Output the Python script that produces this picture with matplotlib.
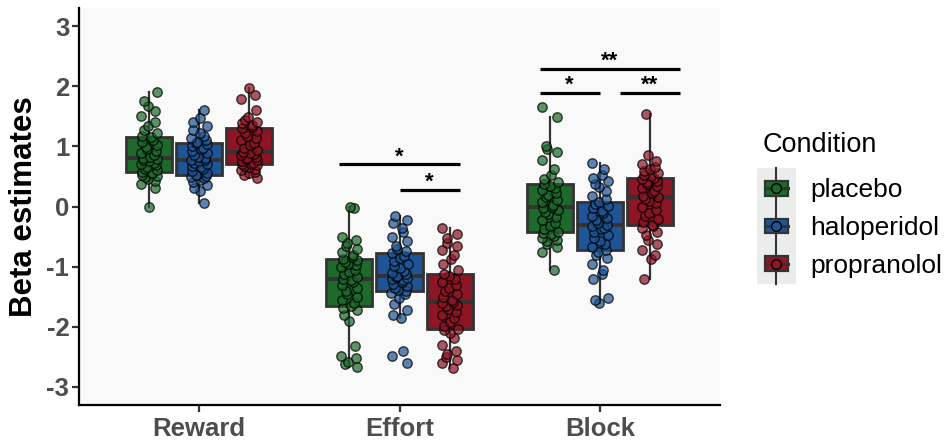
import numpy as np
import matplotlib
matplotlib.use("Agg")
import matplotlib.pyplot as plt
from matplotlib.patches import Rectangle, Patch
from matplotlib.lines import Line2D
from matplotlib.legend_handler import HandlerBase

plt.rcParams['font.family'] = ['Liberation Sans', 'DejaVu Sans']
plt.rcParams['axes.unicode_minus'] = False

categories = ["Reward", "Effort", "Block"]
conditions = ["placebo", "haloperidol", "propranolol"]
colors = {"placebo": "#1d6a2b", "haloperidol": "#1f5597", "propranolol": "#8e1624"}

# Per-participant beta estimates, by regressor and condition
reward_placebo = [0.00, 0.30, 0.38, 0.42, 0.46, 0.49, 0.51, 0.53, 0.55, 0.56,
                  0.57, 0.60, 0.63, 0.66, 0.69, 0.71, 0.73, 0.75, 0.77, 0.79,
                  0.80, 0.83, 0.86, 0.89, 0.92, 0.95, 0.99, 1.03, 1.07, 1.11,
                  1.15, 1.18, 1.22, 1.27, 1.33, 1.40, 1.50, 1.58, 1.67, 1.76, 1.90]
reward_haloperidol = [0.05, 0.25, 0.30, 0.36, 0.40, 0.44, 0.47, 0.49, 0.51, 0.52,
                      0.53, 0.56, 0.59, 0.62, 0.65, 0.68, 0.71, 0.73, 0.75, 0.77,
                      0.78, 0.80, 0.83, 0.86, 0.89, 0.92, 0.95, 0.98, 1.01, 1.04,
                      1.06, 1.08, 1.11, 1.14, 1.18, 1.22, 1.27, 1.33, 1.40, 1.47, 1.60]
reward_propranolol = [0.48, 0.52, 0.55, 0.58, 0.61, 0.63, 0.65, 0.67, 0.69, 0.70,
                      0.71, 0.73, 0.75, 0.77, 0.79, 0.81, 0.83, 0.85, 0.87, 0.89,
                      0.91, 0.94, 0.98, 1.02, 1.06, 1.10, 1.14, 1.18, 1.22, 1.26,
                      1.30, 1.32, 1.35, 1.38, 1.41, 1.44, 1.48, 1.60, 1.78, 1.86, 1.97]
effort_placebo = [-2.67, -2.62, -2.58, -2.52, -2.48, -2.32, -1.90, -1.80, -1.72, -1.68,
                  -1.66, -1.60, -1.55, -1.50, -1.45, -1.40, -1.35, -1.30, -1.26, -1.22,
                  -1.20, -1.17, -1.13, -1.09, -1.05, -1.01, -0.98, -0.95, -0.92, -0.89,
                  -0.87, -0.84, -0.80, -0.75, -0.70, -0.65, -0.60, -0.55, -0.50, -0.02, 0.00]
effort_haloperidol = [-2.60, -2.48, -2.40, -1.86, -1.80, -1.72, -1.62, -1.52, -1.46, -1.43,
                      -1.41, -1.38, -1.35, -1.32, -1.29, -1.26, -1.23, -1.21, -1.19, -1.17,
                      -1.16, -1.13, -1.10, -1.07, -1.03, -0.99, -0.95, -0.90, -0.86, -0.82,
                      -0.78, -0.74, -0.70, -0.65, -0.58, -0.50, -0.42, -0.35, -0.28, -0.22, -0.15]
effort_propranolol = [-2.69, -2.60, -2.55, -2.50, -2.46, -2.40, -2.30, -2.18, -2.10, -2.06,
                      -2.03, -1.98, -1.92, -1.86, -1.80, -1.75, -1.70, -1.66, -1.63, -1.61,
                      -1.59, -1.55, -1.50, -1.45, -1.40, -1.35, -1.30, -1.25, -1.20, -1.16,
                      -1.13, -1.05, -0.95, -0.88, -0.80, -0.72, -0.66, -0.60, -0.52, -0.45, -0.35]
block_placebo = [-1.06, -0.75, -0.68, -0.62, -0.58, -0.55, -0.52, -0.49, -0.46, -0.44,
                 -0.43, -0.38, -0.33, -0.28, -0.23, -0.18, -0.13, -0.09, -0.05, -0.03,
                 -0.01, 0.03, 0.07, 0.11, 0.15, 0.19, 0.23, 0.27, 0.31, 0.34,
                 0.37, 0.40, 0.45, 0.52, 0.62, 0.78, 0.90, 0.95, 1.00, 1.48, 1.65]
block_haloperidol = [-1.60, -1.56, -1.52, -1.20, -1.12, -1.05, -0.95, -0.86, -0.80, -0.76,
                     -0.73, -0.68, -0.63, -0.58, -0.53, -0.48, -0.43, -0.38, -0.35, -0.32,
                     -0.30, -0.27, -0.23, -0.19, -0.15, -0.11, -0.07, -0.03, 0.01, 0.04,
                     0.07, 0.12, 0.18, 0.26, 0.32, 0.38, 0.43, 0.47, 0.52, 0.62, 0.73]
block_propranolol = [-1.20, -0.88, -0.80, -0.72, -0.62, -0.55, -0.48, -0.42, -0.36, -0.32,
                     -0.30, -0.25, -0.20, -0.15, -0.10, -0.05, 0.00, 0.05, 0.09, 0.12,
                     0.15, 0.18, 0.22, 0.26, 0.30, 0.34, 0.37, 0.40, 0.43, 0.46,
                     0.48, 0.50, 0.53, 0.56, 0.59, 0.62, 0.66, 0.70, 0.76, 0.85, 1.53]

data = {
    ("Reward", "placebo"): reward_placebo,
    ("Reward", "haloperidol"): reward_haloperidol,
    ("Reward", "propranolol"): reward_propranolol,
    ("Effort", "placebo"): effort_placebo,
    ("Effort", "haloperidol"): effort_haloperidol,
    ("Effort", "propranolol"): effort_propranolol,
    ("Block", "placebo"): block_placebo,
    ("Block", "haloperidol"): block_haloperidol,
    ("Block", "propranolol"): block_propranolol,
}

# Pairwise comparisons: (x start, x end, bar height, significance label)
sig_x1 = [1.7, 2.0, 2.7, 3.1, 2.7]
sig_x2 = [2.3, 2.3, 3.0, 3.4, 3.4]
sig_y = [0.70, 0.28, 1.89, 1.89, 2.29]
sig_labels = ["*", "*", "*", "**", "**"]

W, H, DPI = 949, 441, 100
fig = plt.figure(figsize=(W / DPI, H / DPI), dpi=DPI)
ax = fig.add_axes([79 / W, 1 - 405 / H, (720 - 79) / W, (405 - 8) / H])
ax.set_facecolor("#f9f9f9")

dodge = [-0.25, 0.0, 0.25]
box_w = 0.23
edge = "#333333"

for ci, cat in enumerate(categories):
    for k, cond in enumerate(conditions):
        vals = np.asarray(data[(cat, cond)])
        pos = ci + 1 + dodge[k]
        ax.boxplot([vals], positions=[pos], widths=box_w, patch_artist=True,
                   showfliers=False, showcaps=False, whis=1.5,
                   boxprops=dict(facecolor=colors[cond], edgecolor=edge, linewidth=2.0),
                   medianprops=dict(color=edge, linewidth=2.8),
                   whiskerprops=dict(color=edge, linewidth=1.6),
                   manage_ticks=False, zorder=2)
        # spread the points sideways so they do not overlap
        n = len(vals)
        jit = 0.04 * np.sin(np.arange(n) * 2.39996 + ci * 1.3 + k * 0.7)
        ax.scatter(pos + jit, vals, s=46, facecolor=colors[cond], alpha=0.72,
                   edgecolor="black", linewidth=1.0, zorder=3)

for x1, x2, y, lab in zip(sig_x1, sig_x2, sig_y, sig_labels):
    ax.plot([x1, x2], [y, y], color="black", linewidth=2.3, solid_capstyle="butt", zorder=4)
    ax.text((x1 + x2) / 2, y - 0.05, lab, ha="center", va="bottom",
            fontsize=16, fontweight="bold", color="black")

ax.set_xlim(0.4, 3.6)
ax.set_ylim(-3.3, 3.3)
ax.set_xticks([1, 2, 3])
ax.set_xticklabels(categories)
ax.set_yticks([-3, -2, -1, 0, 1, 2, 3])
ax.tick_params(axis="both", labelsize=18.5, labelcolor="#4d4d4d", color="#333333",
               length=5, width=1.6, pad=2)
ax.tick_params(axis="x", pad=4)
for lab in ax.get_xticklabels() + ax.get_yticklabels():
    lab.set_fontweight("bold")
ax.set_ylabel("Beta estimates", fontsize=22.5, fontweight="bold", labelpad=5)

for side in ["top", "right"]:
    ax.spines[side].set_visible(False)
for side in ["left", "bottom"]:
    ax.spines[side].set_linewidth(1.6)
    ax.spines[side].set_color("black")


class BoxKeyHandler(HandlerBase):
    def create_artists(self, legend, orig_handle, xdescent, ydescent, width, height,
                       fontsize, trans):
        fc = orig_handle.get_facecolor()
        x0, y0 = -xdescent, -ydescent
        bg = Rectangle((x0 - 4, y0 - 6), width + 8, height + 12, facecolor="#ebeded",
                       edgecolor="none", transform=trans)
        cx = x0 + width / 2
        cy = y0 + height / 2
        vline = Line2D([cx, cx], [y0 - 6, y0 + height + 6], color=edge, linewidth=1.5,
                       transform=trans)
        bw, bh = width * 0.82, height * 0.62
        box = Rectangle((cx - bw / 2, cy - bh / 2), bw, bh, facecolor=fc,
                        edgecolor=edge, linewidth=1.6, transform=trans)
        med = Line2D([cx - bw / 2, cx + bw / 2], [cy, cy], color=edge, linewidth=2.2,
                     transform=trans)
        dot = Line2D([cx], [cy], marker="o", markersize=7, markerfacecolor=fc,
                     markeredgecolor="black", markeredgewidth=1.0, linestyle="none",
                     transform=trans)
        return [bg, vline, box, med, dot]


handles = [Patch(facecolor=colors[c]) for c in conditions]
leg = fig.legend(handles, conditions, title="Condition", loc="center left",
                 bbox_to_anchor=(744 / W, 1 - 205 / H), frameon=False,
                 fontsize=19, title_fontsize=19.5, handler_map={Patch: BoxKeyHandler()},
                 handlelength=1.05, handleheight=1.0, labelspacing=0.45,
                 handletextpad=0.75, borderpad=0.2, alignment="left")
leg._legend_box.sep = 13

fig.savefig("out.png", dpi=DPI)
